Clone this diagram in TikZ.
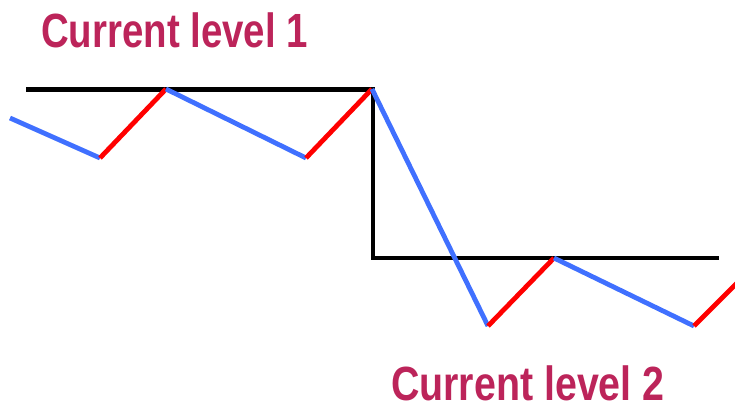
\documentclass[tikz,border=0pt]{standalone}
\usepackage{fontspec}
\setmainfont{Liberation Sans}
\definecolor{labelcol}{RGB}{188,36,90}
\definecolor{fallcol}{RGB}{64,112,255}
\definecolor{risecol}{RGB}{255,0,0}
\begin{document}
\begin{tikzpicture}[x=1pt,y=-1pt,
  level/.style={line width=4.2pt,black},
  fall/.style={line width=4.8pt,fallcol},
  rise/.style={line width=4.8pt,risecol},
  label/.style={anchor=base west,inner sep=0pt,text=labelcol,
    font=\fontsize{48}{48}\selectfont\bfseries,xscale=0.8}]
\useasboundingbox (0,0) rectangle (735,404);
% level lines
\coordinate (l1a) at (26,89.5);
\coordinate (l1b) at (373,89.5);
\coordinate (l2a) at (373,258);
\coordinate (l2b) at (719,258);
\draw[level] (l1a) -- (l1b) -- (l2a) -- (l2b);
% waveform
\coordinate (p0) at (10,118);
\coordinate (p1) at (100,158);
\coordinate (p2) at (166,89);
\coordinate (p3) at (306,158);
\coordinate (p4) at (372,89);
\coordinate (p5) at (488,326);
\coordinate (p6) at (554,258);
\coordinate (p7) at (694,326);
\coordinate (p8) at (737,283);
\draw[fall] (p0) -- (p1);
\draw[rise] (p1) -- (p2);
\draw[fall] (p2) -- (p3);
\draw[rise] (p3) -- (p4);
\draw[fall] (p4) -- (p5);
\draw[rise] (p5) -- (p6);
\draw[fall] (p6) -- (p7);
\draw[rise] (p7) -- (p8);
% labels
\node[label] (t1) at (41,48) {Current level 1};
\node[label,xscale=1.025] (t2) at (391,400) {Current level 2};
\end{tikzpicture}
\end{document}
